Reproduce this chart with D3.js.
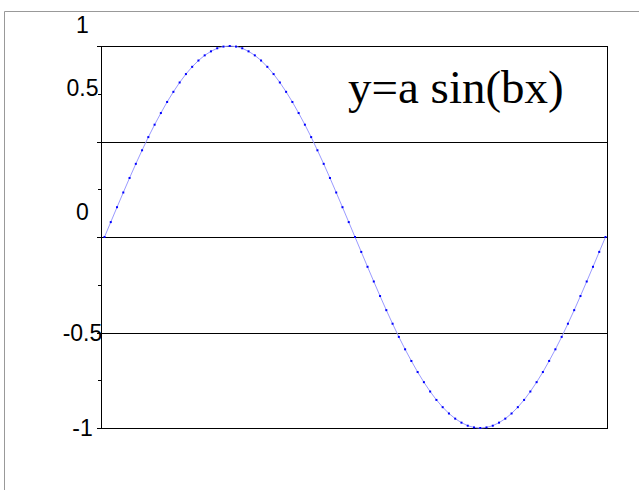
<!DOCTYPE html>
<html>
<head>
<meta charset="utf-8">
<script src="https://cdn.jsdelivr.net/npm/d3@7"></script>
<style>
  body { margin: 0; background: #fff; }
  svg { display: block; }
</style>
</head>
<body>
<svg id="chart" width="639" height="490"></svg>
<script>
// sample index along one period (0..80)
const sampleIdx = d3.range(0, 81);
// y values
const yValues = [
  0, 0.078, 0.156, 0.233, 0.309, 0.383, 0.454, 0.523, 0.588, 0.649,
  0.707, 0.760, 0.809, 0.853, 0.891, 0.924, 0.951, 0.972, 0.988, 0.997,
  1, 0.997, 0.988, 0.972, 0.951, 0.924, 0.891, 0.853, 0.809, 0.760,
  0.707, 0.649, 0.588, 0.523, 0.454, 0.383, 0.309, 0.233, 0.156, 0.078,
  0, -0.078, -0.156, -0.233, -0.309, -0.383, -0.454, -0.523, -0.588, -0.649,
  -0.707, -0.760, -0.809, -0.853, -0.891, -0.924, -0.951, -0.972, -0.988, -0.997,
  -1, -0.997, -0.988, -0.972, -0.951, -0.924, -0.891, -0.853, -0.809, -0.760,
  -0.707, -0.649, -0.588, -0.523, -0.454, -0.383, -0.309, -0.233, -0.156, -0.078,
  0
];
const majorTicks = [-1, -0.5, 0, 0.5, 1];
const minorTicks = [-0.75, -0.25, 0.25, 0.75];
const gridValues = [-0.5, 0, 0.5];
const tickLabels = ["-1", "-0.5", "0", "0.5", "1"];
// the labels in the original do not sit on their ticks; where each one sits (data units)
const labelAt = [-1.04, -0.545, 0.09, 0.738, 1.068];
const title = "y=a sin(bx)";

const svg = d3.select("#chart");

const plotL = 101, plotR = 607, plotT = 46, plotB = 428;

const x = d3.scaleLinear().domain([0, 80]).range([104.5, 605.5]);
const y = d3.scaleLinear().domain([-1, 1]).range([plotB, plotT]);

// outer gray border (top and left only visible)
svg.append("path")
  .attr("d", `M4.5,490 V11.5 H639`)
  .attr("fill", "none")
  .attr("stroke", "#999")
  .attr("stroke-width", 1);

// gridlines
svg.selectAll(".grid")
  .data(gridValues)
  .enter()
  .append("line")
  .attr("class", "grid")
  .attr("x1", plotL).attr("x2", plotR)
  .attr("y1", (d) => Math.round(y(d)) + 0.5)
  .attr("y2", (d) => Math.round(y(d)) + 0.5)
  .attr("stroke", "#000")
  .attr("shape-rendering", "crispEdges");

// frame
svg.append("rect")
  .attr("x", plotL + 0.5).attr("y", plotT + 0.5)
  .attr("width", plotR - plotL).attr("height", plotB - plotT)
  .attr("fill", "none")
  .attr("stroke", "#000")
  .attr("shape-rendering", "crispEdges");

// ticks
svg.selectAll(".major")
  .data(majorTicks)
  .enter()
  .append("line")
  .attr("x1", plotL - 4).attr("x2", plotL)
  .attr("y1", (d) => Math.round(y(d)) + 0.5)
  .attr("y2", (d) => Math.round(y(d)) + 0.5)
  .attr("stroke", "#000")
  .attr("shape-rendering", "crispEdges");

svg.selectAll(".minor")
  .data(minorTicks)
  .enter()
  .append("line")
  .attr("x1", plotL - 3).attr("x2", plotL)
  .attr("y1", (d) => Math.round(y(d)) + 0.5)
  .attr("y2", (d) => Math.round(y(d)) + 0.5)
  .attr("stroke", "#000")
  .attr("shape-rendering", "crispEdges");

// tick labels
svg.selectAll(".lbl")
  .data(tickLabels)
  .enter()
  .append("text")
  .attr("x", 82.5)
  .attr("y", (d, i) => y(labelAt[i]))
  .attr("text-anchor", "middle")
  .style("font-family", "'Liberation Sans', Arial, sans-serif")
  .style("font-size", "23px")
  .text((d) => d);

// curve
const line = d3.line()
  .x((d) => x(d))
  .y((d, i) => y(yValues[i]));

svg.append("path")
  .datum(sampleIdx)
  .attr("d", line)
  .attr("fill", "none")
  .attr("stroke", "#9a9aff")
  .attr("stroke-width", 1);

svg.selectAll(".pt")
  .data(sampleIdx)
  .enter()
  .append("rect")
  .attr("x", (d) => x(d) - 1)
  .attr("y", (d, i) => y(yValues[i]) - 1)
  .attr("width", 2).attr("height", 2)
  .attr("fill", "#0000ff");

// title
svg.append("text")
  .attr("x", 348)
  .attr("y", 103)
  .style("font-family", "'Liberation Serif', 'Times New Roman', serif")
  .style("font-size", "47px")
  .text(title);
</script>
</body>
</html>
